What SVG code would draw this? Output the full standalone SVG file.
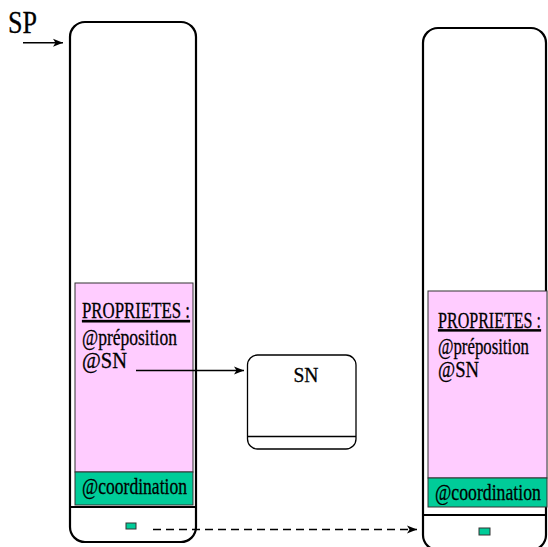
<svg xmlns="http://www.w3.org/2000/svg" width="548" height="547" viewBox="0 0 548 547">
<style>
.box{fill:#fff;stroke:#000;stroke-width:2.2}
.sep{stroke:#000;stroke-width:2.2}
.props{fill:#ffccff;stroke:#333;stroke-width:1}
.coord{fill:#00cc99;stroke:#333;stroke-width:1}
.t{font-family:'Liberation Serif','Times New Roman',serif;font-size:23px;fill:#000;stroke:#000;stroke-width:0.3}
.u{text-decoration:underline}
.conn{fill:none;stroke:#000;stroke-width:1.5}
</style>
<defs>
<marker id="ah" viewBox="0 0 10 10" refX="10" refY="5" markerWidth="10" markerHeight="10" markerUnits="userSpaceOnUse" orient="auto">
<path d="M0,1 L10,5 L0,9 L2.5,5 Z" fill="#000"/>
</marker>
</defs>
<g id="sp-label">
<text class="t" x="8" y="33" style="font-size:31px" textLength="29" lengthAdjust="spacingAndGlyphs">SP</text>
</g>
<g id="sp-node">
<rect class="box" x="70" y="22" width="126" height="520" rx="15" ry="15"/>
<rect class="props" x="75" y="283" width="118" height="189"/>
<text class="t u" x="82" y="318" textLength="108" lengthAdjust="spacingAndGlyphs">PROPRIETES :</text>
<text class="t" x="82" y="345" textLength="95" lengthAdjust="spacingAndGlyphs">@préposition</text>
<text class="t" x="82" y="368" textLength="45" lengthAdjust="spacingAndGlyphs">@SN</text>
<rect class="coord" x="75" y="472" width="118" height="33"/>
<text class="t" x="82" y="494" textLength="105" lengthAdjust="spacingAndGlyphs">@coordination</text>
<line class="sep" x1="70" y1="507" x2="196" y2="507"/>
<rect class="coord" x="126" y="523" width="10" height="6"/>
</g>
<g id="sn-node">
<rect x="247.5" y="355" width="108.5" height="94" rx="10" ry="10" fill="#fff" stroke="#000" stroke-width="1.3"/>
<line x1="247.5" y1="436.5" x2="356" y2="436.5" stroke="#000" stroke-width="1.3"/>
<text class="t" x="306" y="381.5" style="font-size:20px" text-anchor="middle" textLength="25" lengthAdjust="spacingAndGlyphs">SN</text>
</g>
<g id="sp-node-2">
<rect class="box" x="423" y="28" width="123" height="522" rx="15" ry="15"/>
<rect class="props" x="428" y="291" width="119" height="187"/>
<text class="t u" transform="translate(438,328) scale(0.698,1)">PROPRIETES :</text>
<text class="t" transform="translate(438,354) scale(0.73,1)">@préposition</text>
<text class="t" transform="translate(438,377) scale(0.81,1)">@SN</text>
<rect class="coord" x="428" y="478" width="119" height="29"/>
<text class="t" transform="translate(435,500) scale(0.771,1)">@coordination</text>
<line class="sep" x1="423" y1="515" x2="546" y2="515"/>
<rect class="coord" x="479" y="528" width="11" height="7"/>
</g>
<g id="connectors">
<line class="conn" x1="23" y1="42.7" x2="63" y2="42.7" marker-end="url(#ah)"/>
<line class="conn" x1="136" y1="370.5" x2="244" y2="370.5" marker-end="url(#ah)"/>
<line class="conn" x1="153" y1="529.5" x2="417" y2="529.5" stroke-dasharray="8,5" marker-end="url(#ah)"/>
</g>
</svg>
